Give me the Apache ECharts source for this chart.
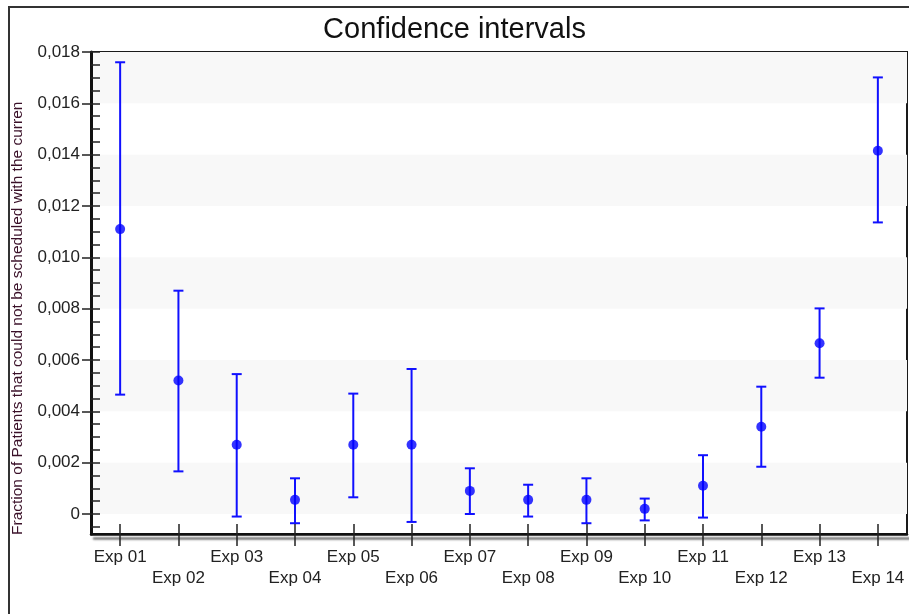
<!DOCTYPE html>
<html>
<head>
<meta charset="utf-8">
<title>Confidence intervals</title>
<script src="https://cdn.jsdelivr.net/npm/echarts@6/dist/echarts.min.js"></script>
<style>
  html, body { margin: 0; padding: 0; background: #ffffff; }
  #chart { width: 909px; height: 614px; }
</style>
</head>
<body>
<div id="chart"></div>
<script>
// Experiments on the category axis
const categories = ['Exp 01', 'Exp 02', 'Exp 03', 'Exp 04', 'Exp 05', 'Exp 06', 'Exp 07',
                    'Exp 08', 'Exp 09', 'Exp 10', 'Exp 11', 'Exp 12', 'Exp 13', 'Exp 14'];

// Estimated fraction of unscheduled patients (point estimate)
const means = [0.0111, 0.0052, 0.0027, 0.00055, 0.0027, 0.0027, 0.0009,
               0.00055, 0.00055, 0.0002, 0.0011, 0.0034, 0.00665, 0.01415];

// Lower and upper bounds of the confidence interval
const lower = [0.00465, 0.00166, -0.0001, -0.00036, 0.00065, -0.00031, 0.0,
               -0.0001, -0.00036, -0.00025, -0.00014, 0.00184, 0.00531, 0.01136];
const upper = [0.0176, 0.0087, 0.00545, 0.00139, 0.00469, 0.00565, 0.00178,
               0.00114, 0.00139, 0.0006, 0.00229, 0.00496, 0.00801, 0.01701];

// Labelled values on the vertical axis
const yTickValues = [0, 0.002, 0.004, 0.006, 0.008, 0.010, 0.012, 0.014, 0.016, 0.018];

const Y_MIN = -0.00078;
const Y_MAX = 0.018;
const BLUE = '#1010ff';
const FONT = '"Liberation Sans", Arial, sans-serif';

// minor ticks every 0.0005
const minorTicks = [];
for (let k = -1; k <= 36; k++) minorTicks.push(+(k * 0.0005).toFixed(4));

// alternating background bands, one per labelled interval
const bands = [];
for (let i = 0; i < yTickValues.length - 1; i += 2) {
  bands.push([{ yAxis: yTickValues[i] }, { yAxis: yTickValues[i + 1] }]);
}

const fmtY = v => (Math.abs(v) < 1e-12 ? '0' : v.toFixed(3).replace('.', ','));

const chart = echarts.init(document.getElementById('chart'), null, { renderer: 'canvas' });

chart.setOption({
  backgroundColor: '#ffffff',
  animation: false,
  title: {
    text: 'Confidence intervals',
    left: 'center',
    top: 10,
    textStyle: { fontFamily: FONT, fontSize: 29, fontWeight: 'normal', color: '#111111' }
  },
  graphic: [
    {
      type: 'rect',
      z: -10,
      silent: true,
      shape: { x: 9, y: 7, width: 1000, height: 1000 },
      style: { fill: 'none', stroke: '#333333', lineWidth: 2 }
    },
    {
      type: 'text',
      silent: true,
      x: 18,
      y: 535,
      rotation: Math.PI / 2,
      style: {
        text: 'Fraction of Patients that could not be scheduled with the curren',
        font: '15.5px ' + FONT,
        fill: '#3a1028',
        align: 'left',
        verticalAlign: 'middle'
      }
    }
  ],
  grid: {
    left: 91, right: 2, top: 52, bottom: 80,
    show: true,
    backgroundColor: '#ffffff',
    borderColor: '#1a1a1a',
    borderWidth: 2
  },
  xAxis: [
    {
      type: 'category',
      data: categories,
      boundaryGap: true,
      z: 10,
      axisLine: {
        show: true,
        onZero: false,
        lineStyle: { color: '#111111', width: 2.5, shadowColor: 'rgba(0,0,0,0.55)', shadowBlur: 2, shadowOffsetX: 3, shadowOffsetY: 4 }
      },
      axisTick: { show: true, alignWithLabel: true, inside: false, length: 12, lineStyle: { color: '#222222', width: 1.5 } },
      axisLabel: {
        show: true,
        interval: 0,
        margin: 13,
        fontFamily: FONT,
        fontSize: 17,
        lineHeight: 21,
        color: '#222222',
        formatter: (v, i) => (i % 2 === 1 ? '\n' + v : v)
      },
      splitLine: { show: false }
    },
    {
      type: 'category',
      data: categories,
      position: 'bottom',
      boundaryGap: true,
      z: 10,
      axisLine: { show: false, onZero: false },
      axisTick: { show: true, alignWithLabel: true, inside: true, length: 10, lineStyle: { color: '#222222', width: 1.5 } },
      axisLabel: { show: false },
      splitLine: { show: false }
    }
  ],
  yAxis: [
    {
      type: 'value',
      min: Y_MIN,
      max: Y_MAX,
      position: 'left',
      z: 10,
      axisLine: { show: true, lineStyle: { color: '#111111', width: 3 } },
      axisTick: { show: true, inside: false, length: 9, customValues: yTickValues, lineStyle: { color: '#222222', width: 1.5 } },
      axisLabel: {
        show: true,
        margin: 11,
        customValues: yTickValues,
        fontFamily: FONT,
        fontSize: 17,
        color: '#222222',
        formatter: fmtY
      },
      splitLine: { show: false },
      splitArea: { show: false }
    },
    {
      type: 'value',
      min: Y_MIN,
      max: Y_MAX,
      position: 'left',
      z: 10,
      axisLine: { show: false },
      axisTick: { show: true, inside: true, length: 9, customValues: minorTicks, lineStyle: { color: '#222222', width: 1.5 } },
      axisLabel: { show: false },
      splitLine: { show: false }
    }
  ],
  series: [
    {
      name: 'interval',
      type: 'custom',
      xAxisIndex: 0,
      yAxisIndex: 0,
      data: categories.map((c, i) => [i, lower[i], upper[i]]),
      encode: { x: 0, y: [1, 2] },
      clip: false,
      markArea: {
        silent: true,
        itemStyle: { color: '#f8f8f8' },
        data: bands
      },
      renderItem: function (params, api) {
        const x = api.value(0);
        const top = api.coord([x, api.value(2)]);
        const bot = api.coord([x, api.value(1)]);
        const cap = 5;
        const style = { stroke: BLUE, lineWidth: 2, fill: 'none' };
        return {
          type: 'group',
          children: [
            { type: 'line', shape: { x1: top[0], y1: top[1], x2: bot[0], y2: bot[1] }, style: style },
            { type: 'line', shape: { x1: top[0] - cap, y1: top[1], x2: top[0] + cap, y2: top[1] }, style: style },
            { type: 'line', shape: { x1: bot[0] - cap, y1: bot[1], x2: bot[0] + cap, y2: bot[1] }, style: style }
          ]
        };
      },
      z: 3
    },
    {
      name: 'mean',
      type: 'scatter',
      xAxisIndex: 0,
      yAxisIndex: 0,
      data: means,
      symbol: 'circle',
      symbolSize: 10,
      itemStyle: { color: '#0000ff' },
      z: 4
    }
  ]
});
</script>
</body>
</html>
